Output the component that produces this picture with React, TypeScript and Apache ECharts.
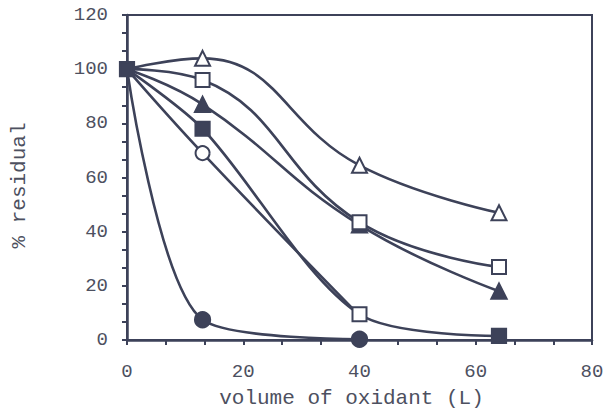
import React, { useEffect, useRef } from "react";
import * as echarts from "echarts";

const xValues = [0, 13, 40, 64];
const openTriangle = [100, 104, 64.5, 47];
const openSquare = [100, 96, 43.5, 27];
const filledTriangle = [100, 87, 42.5, 18];
const filledSquare = [100, 78, 9.5, 1.5];
const openCircle = [100, 69, 9];
const filledCircle = [100, 7.5, 0.3];

const xTicks = [0, 20, 40, 60, 80];
const yTicks = [0, 20, 40, 60, 80, 100, 120];

const LINE = "#3d4259";
const TEXT = "#4d5060";
const FONT = "Liberation Mono";

function mk(vals: number[], overrides: Record<number, any> = {}) {
  return vals.map((v, i) => {
    const item: any = { value: [xValues[i], v] };
    if (i === 0) item.symbol = "none";
    if (overrides[i]) Object.assign(item, overrides[i]);
    return item;
  });
}

export default function App() {
  const ref = useRef<HTMLDivElement>(null);
  useEffect(() => {
    if (!ref.current) return;
    const chart = echarts.init(ref.current, null, { renderer: "svg" });
    const base = (name: string, symbol: string, size: number, data: any[], smooth = 0.45) => ({
      name,
      type: "line",
      smooth,
      symbol,
      symbolSize: size,
      data,
      lineStyle: { color: LINE, width: 2.6 },
      itemStyle: { color: LINE, borderColor: LINE, borderWidth: 2.2 },
      emphasis: { disabled: true },
    });
    chart.setOption({
      animation: false,
      backgroundColor: "#ffffff",
      grid: {
        left: 127,
        right: 11,
        top: 15,
        bottom: 70,
        outerBoundsMode: "none",
        containLabel: false,
        show: true,
        borderColor: LINE,
        borderWidth: 2,
        backgroundColor: "#ffffff",
      },
      xAxis: {
        type: "value",
        min: xTicks[0],
        max: xTicks[xTicks.length - 1],
        interval: 20,
        name: "volume of oxidant (L)",
        nameLocation: "middle",
        nameGap: 48,
        nameTextStyle: { fontFamily: FONT, fontSize: 21, color: TEXT, padding: [0, 16, 0, 0] },
        axisLine: { show: true, lineStyle: { color: LINE, width: 2.5 } },
        axisTick: { show: true, length: 5, lineStyle: { color: LINE, width: 2 } },
        minorTick: { show: true, splitNumber: 3, length: 5, lineStyle: { color: LINE, width: 2 } },
        splitLine: { show: false },
        axisLabel: { fontFamily: FONT, fontSize: 19, color: TEXT, margin: 22 },
      },
      yAxis: {
        type: "value",
        min: yTicks[0],
        max: yTicks[yTicks.length - 1],
        interval: 20,
        name: "% residual",
        nameLocation: "middle",
        nameGap: 97,
        nameTextStyle: { fontFamily: FONT, fontSize: 21, color: TEXT, padding: [0, 16, 0, 0] },
        axisLine: { show: true, lineStyle: { color: LINE, width: 2.5 } },
        axisTick: { show: true, length: 5, lineStyle: { color: LINE, width: 2 } },
        minorTick: { show: true, splitNumber: 3, length: 5, lineStyle: { color: LINE, width: 2 } },
        splitLine: { show: false },
        axisLabel: { fontFamily: FONT, fontSize: 19, color: TEXT, margin: 19 },
      },
      series: [
        base("open circle", "emptyCircle", 14, mk(openCircle, { 2: { symbol: "none" } }), 0.4),
        base("filled square", "rect", 14, mk(filledSquare, { 0: { symbol: "rect" }, 2: { symbol: "emptyRect" } }), 0.3),
        base("filled circle", "circle", 15, mk(filledCircle), 0.3),
        base("filled triangle", "triangle", 15, mk(filledTriangle)),
        base("open square", "emptyRect", 14, mk(openSquare)),
        base("open triangle", "emptyTriangle", 15, mk(openTriangle)),
      ],
    });
    return () => chart.dispose();
  }, []);
  return <div ref={ref} style={{ width: 603, height: 410, position: "absolute", left: 0, top: 0 }} />;
}
